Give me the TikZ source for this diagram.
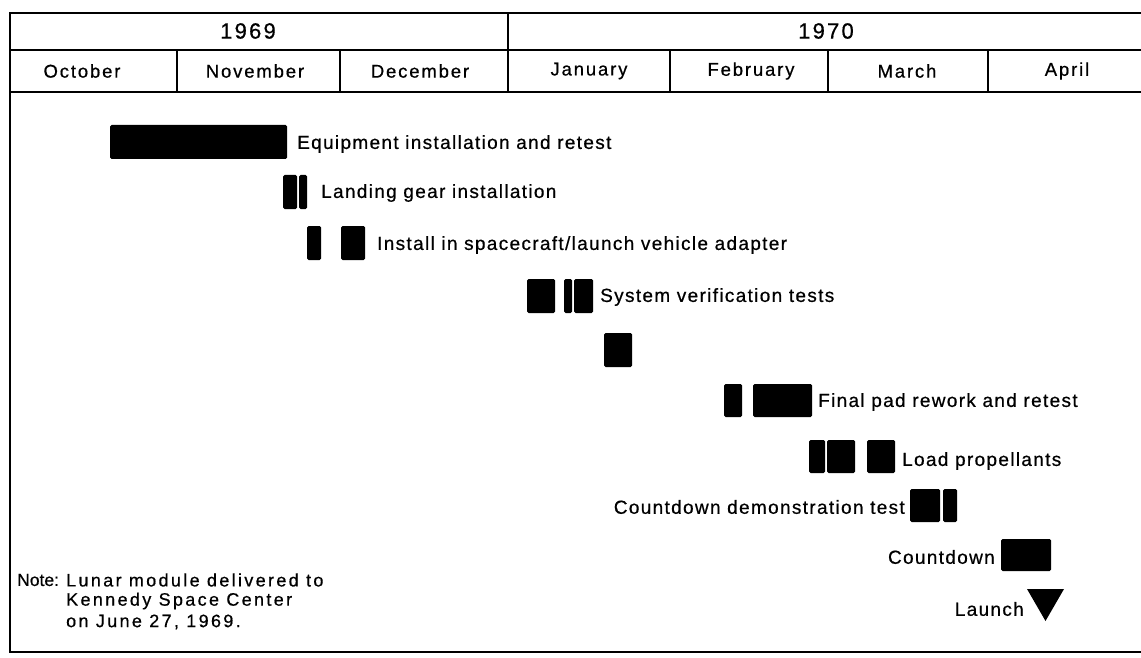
\documentclass[tikz,border=0pt]{standalone}
\usepackage{fontspec}
\setmainfont{Liberation Sans}
\newfontfamily\lblfont[LetterSpace=7,FakeBold=0.6]{Liberation Sans}
\newfontfamily\hdrfont[LetterSpace=10,FakeBold=0.6]{Liberation Sans}
\newfontfamily\noteplain[FakeBold=0.6]{Liberation Sans}
\newfontfamily\notefont[LetterSpace=13,FakeBold=0.6]{Liberation Sans}
\begin{document}
\begin{tikzpicture}[x=1pt,y=-1pt,
  frame/.style={line width=1.8pt},
  sep/.style={line width=1.4pt},
  bar/.style={fill=black,rounded corners=1.5pt},
  lbl/.style={font=\lblfont\fontsize{19}{22}\selectfont,inner sep=0pt},
  hdr/.style={font=\hdrfont\fontsize{18.5}{21}\selectfont,inner sep=0pt},
  yr/.style={font=\hdrfont\fontsize{22}{24}\selectfont,inner sep=0pt},
  note/.style={font=\notefont\fontsize{18}{21}\selectfont,inner sep=0pt,anchor=west},
  notehead/.style={font=\noteplain\fontsize{17.5}{21}\selectfont,inner sep=0pt,anchor=west}]
\useasboundingbox (0,0) rectangle (1141,658);
\clip (0,0) rectangle (1141,658);
% frame and header grid
\draw[frame] (10,13) rectangle (1160,652);
\draw[sep] (10,50) -- (1160,50);
\draw[sep] (10,92) -- (1160,92);
\draw[sep] (508,13) -- (508,92);
\foreach \x in {177,340,670,828,988} \draw[sep] (\x,50) -- (\x,92);
% header text
\node[yr] (y69) at (248,31) {1969};
\node[yr] (y70) at (826,31) {1970};
\node[hdr] (oct) at (82,71) {October};
\node[hdr] (nov) at (255,71) {November};
\node[hdr] (dec) at (420,71) {December};
\node[hdr] (jan) at (589,71) {January};
\node[hdr] (feb) at (751,71) {February};
\node[hdr] (mar) at (907,71) {March};
\node[hdr] (apr) at (1067,71) {April};
% bars
\fill[bar] (110,125) rectangle (287,159);
\fill[bar] (283,175) rectangle (297,209);
\fill[bar] (299,175) rectangle (307,209);
\fill[bar] (307,226) rectangle (321,260);
\fill[bar] (341,226) rectangle (365,260);
\fill[bar] (527,279) rectangle (555,313);
\fill[bar] (564,279) rectangle (572,313);
\fill[bar] (574,279) rectangle (593,313);
\fill[bar] (604,333) rectangle (632,367);
\fill[bar] (724,384) rectangle (742,417);
\fill[bar] (753,384) rectangle (812,417);
\fill[bar] (809,440) rectangle (825,473);
\fill[bar] (827,440) rectangle (855,473);
\fill[bar] (867,440) rectangle (895,473);
\fill[bar] (910,489) rectangle (940,522);
\fill[bar] (943,489) rectangle (957,522);
\fill[bar] (1001,539) rectangle (1051,571);
\fill (1027,589) -- (1064,589) -- (1045.5,621) -- cycle;
% labels
\node[lbl,anchor=west] (l1) at (297,144) {Equipment installation and retest};
\node[lbl,anchor=west] (l2) at (321,193) {Landing gear installation};
\node[lbl,anchor=west] (l3) at (377,245) {Install in spacecraft/launch vehicle adapter};
\node[lbl,anchor=west] (l4) at (600,297) {System verification tests};
\node[lbl,anchor=west] (l5) at (818,402) {Final pad rework and retest};
\node[lbl,anchor=west] (l6) at (902,461) {Load propellants};
\node[lbl,anchor=east] (l7) at (905,507) {Countdown demonstration test};
\node[lbl,anchor=east] (l8) at (995,557) {Countdown};
\node[lbl,anchor=east] (l9) at (1024,609) {Launch};
% note
\node[notehead] (n0) at (17,580) {Note:};
\node[note] (n1) at (66,580) {Lunar module delivered to};
\node[note] (n2) at (66,601) {Kennedy Space Center};
\node[note] (n3) at (66,622) {on June 27, 1969.};
\end{tikzpicture}
\end{document}
